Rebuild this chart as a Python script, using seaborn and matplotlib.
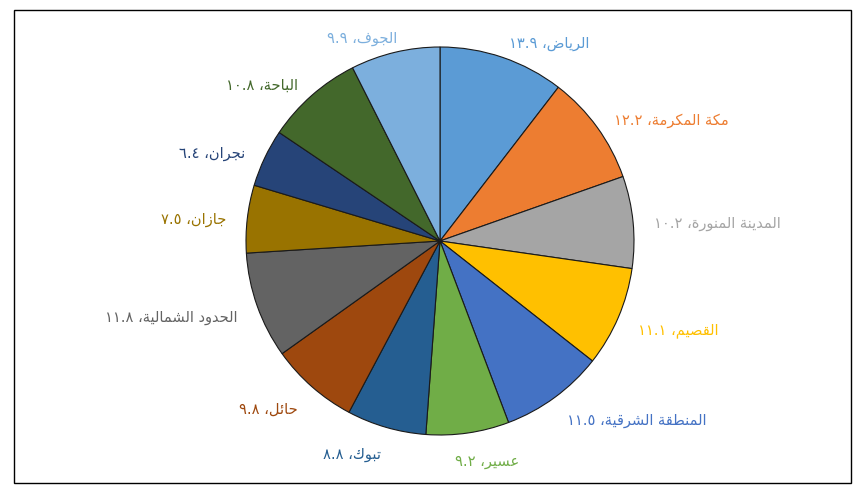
import numpy as np
import matplotlib
matplotlib.use("Agg")
import matplotlib.pyplot as plt
from matplotlib.patches import Rectangle
import seaborn as sns

# Regions and their values, clockwise from the top
regions = ["الرياض", "مكة المكرمة", "المدينة المنورة", "القصيم", "المنطقة الشرقية",
           "عسير", "تبوك", "حائل", "الحدود الشمالية", "جازان", "نجران", "الباحة", "الجوف"]
values = [13.9, 12.2, 10.2, 11.1, 11.5, 9.2, 8.8, 9.8, 11.8, 7.5, 6.4, 10.8, 9.9]
slice_colors = ["#5B9BD5", "#ED7D31", "#A5A5A5", "#FFC000", "#4472C4", "#70AD47",
                "#255E91", "#9E480E", "#636363", "#997300", "#264478", "#43682B", "#7CAFDD"]

sns.set_theme(style="white")
plt.rcParams["font.family"] = ["DejaVu Sans"]
palette = sns.color_palette(slice_colors)

# Arabic letters -> first presentation form code and number of forms
FORMS = {
    "ا": (0xFE8D, 2), "ب": (0xFE8F, 4), "ة": (0xFE93, 2), "ت": (0xFE95, 4),
    "ج": (0xFE9D, 4), "ح": (0xFEA1, 4), "د": (0xFEA9, 2), "ر": (0xFEAD, 2),
    "ز": (0xFEAF, 2), "س": (0xFEB1, 4), "ش": (0xFEB5, 4), "ص": (0xFEB9, 4),
    "ض": (0xFEBD, 4), "ط": (0xFEC1, 4), "ع": (0xFEC9, 4), "ف": (0xFED1, 4),
    "ق": (0xFED5, 4), "ك": (0xFED9, 4), "ل": (0xFEDD, 4), "م": (0xFEE1, 4),
    "ن": (0xFEE5, 4), "و": (0xFEED, 2), "ي": (0xFEF1, 4), "ئ": (0xFE89, 4),
    "ه": (0xFEE9, 4),
}


def shape_word(word):
    out = []
    i = 0
    n = len(word)
    while i < n:
        ch = word[i]
        prev = word[i - 1] if i > 0 else None
        joins_prev = prev is not None and prev in FORMS and FORMS[prev][1] == 4
        if ch == "ل" and i + 1 < n and word[i + 1] == "ا":
            out.append(chr(0xFEFC if joins_prev else 0xFEFB))
            i += 2
            continue
        if ch not in FORMS:
            out.append(ch)
            i += 1
            continue
        base, nforms = FORMS[ch]
        nxt = word[i + 1] if i + 1 < n else None
        joins_next = nforms == 4 and nxt is not None and nxt in FORMS
        if joins_prev and joins_next:
            code = base + 3
        elif joins_prev:
            code = base + 1
        elif joins_next:
            code = base + 2
        else:
            code = base
        out.append(chr(code))
        i += 1
    return "".join(out)


def visual_arabic(text):
    words = text.split(" ")
    shaped = [shape_word(w)[::-1] for w in words]
    return " ".join(shaped[::-1])


def arabic_digits(v):
    return "".join(chr(0x0660 + int(c)) if c.isdigit() else c for c in f"{v:.1f}")


labels = [arabic_digits(v) + " ،" + visual_arabic(r) for r, v in zip(regions, values)]

W, H, DPI = 864, 493, 100
fig = plt.figure(figsize=(W / DPI, H / DPI), dpi=DPI)
fig.patch.set_facecolor("white")

cx, cy, r = 440, 241, 194
ax = fig.add_axes([(cx - r) / W, (H - cy - r) / H, 2 * r / W, 2 * r / H])

wedges, _ = ax.pie(values, colors=palette, startangle=90, counterclock=False,
                   wedgeprops=dict(edgecolor="#1a1a1a", linewidth=0.8))
ax.set_xlim(-1, 1)
ax.set_ylim(-1, 1)
ax.set_aspect("equal")
ax.axis("off")

# outside-end labels
label_dist = 1.11
texts = []
for w, lab, col in zip(wedges, labels, slice_colors):
    ang = np.deg2rad((w.theta1 + w.theta2) / 2)
    ux, uy = np.cos(ang), np.sin(ang)
    t = ax.text(label_dist * ux, label_dist * uy, lab, color=col, fontsize=10.5,
                ha="center", va="center")
    texts.append((t, ux, uy))

fig.canvas.draw()
renderer = fig.canvas.get_renderer()
units_per_px = 2.0 / (2 * r)
for t, ux, uy in texts:
    wpx = t.get_window_extent(renderer).width
    f = np.clip(3.5 * ux, -1, 1)
    x, y = t.get_position()
    dy_px = -3 - 4 * abs(uy)
    t.set_position((x + f * (wpx / 2) * units_per_px, y + dy_px * units_per_px))

# chart border
fig.patches.append(Rectangle((14 / W, (H - 483) / H), (851 - 14) / W, (483 - 10) / H,
                             transform=fig.transFigure, fill=False,
                             edgecolor="black", linewidth=1.0))

fig.savefig("out.png", dpi=DPI)
